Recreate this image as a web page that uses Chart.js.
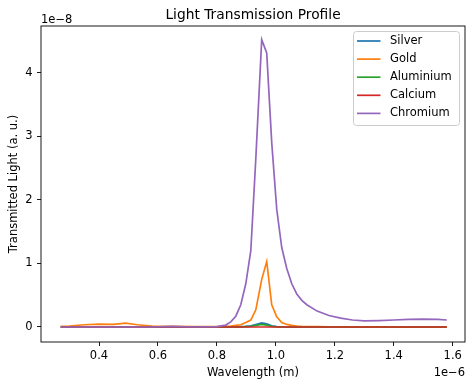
<!DOCTYPE html>
<html>
<head>
<meta charset="utf-8">
<script src="https://cdn.jsdelivr.net/npm/chart.js@4.4.0/dist/chart.umd.min.js"></script>
<style>
body { margin: 0; background: #fff; }
#wrap { width: 474px; height: 387px; }
</style>
</head>
<body>
<div id="wrap"><canvas id="myChart" width="474" height="387"></canvas></div>
<script>
// wavelength in units of 1e-6 m, transmission in units of 1e-8
const wavelengths = [0.27, 0.30, 0.35, 0.40, 0.45, 0.49, 0.53, 0.58, 0.65, 0.72, 0.80, 0.83, 0.847, 0.864, 0.881, 0.898, 0.915, 0.932, 0.952, 0.969, 0.986, 1.003, 1.020, 1.037, 1.054, 1.071, 1.088, 1.105, 1.14, 1.18, 1.22, 1.26, 1.30, 1.35, 1.40, 1.45, 1.50, 1.55, 1.58]

const silver    = [0, 0, 0, 0, 0, 0, 0, 0, 0, 0, 0, 0, 0, 0, 0.005, 0.01, 0.02, 0.04, 0.065, 0.05, 0.02, 0.008, 0.003, 0, 0, 0, 0, 0, 0, 0, 0, 0, 0, 0, 0, 0, 0, 0, 0]
const gold      = [0.01, 0.015, 0.035, 0.045, 0.04, 0.06, 0.035, 0.015, 0.01, 0.005, 0.005, 0.01, 0.015, 0.025, 0.035, 0.07, 0.11, 0.27, 0.75, 1.03, 0.35, 0.16, 0.07, 0.04, 0.025, 0.015, 0.01, 0.008, 0.005, 0.004, 0.003, 0.003, 0.003, 0.003, 0.003, 0.003, 0.003, 0.003, 0.003]
const aluminium = [0, 0, 0, 0, 0, 0, 0, 0, 0, 0, 0, 0, 0, 0, 0, 0.005, 0.01, 0.025, 0.04, 0.03, 0.01, 0.003, 0, 0, 0, 0, 0, 0, 0, 0, 0, 0, 0, 0, 0, 0, 0, 0, 0]
const calcium   = [0, 0, 0, 0, 0, 0, 0, 0, 0, 0, 0, 0, 0, 0, 0, 0, 0, 0, 0, 0, 0, 0, 0, 0, 0, 0, 0, 0, 0, 0, 0, 0, 0, 0, 0, 0, 0, 0, 0]
const chromium  = [0, 0, 0, 0, 0, 0, 0, 0, 0.01, 0, 0.005, 0.03, 0.08, 0.17, 0.35, 0.68, 1.2, 2.65, 4.52, 4.31, 2.9, 1.85, 1.25, 0.92, 0.68, 0.52, 0.42, 0.35, 0.25, 0.18, 0.14, 0.11, 0.095, 0.10, 0.11, 0.12, 0.125, 0.12, 0.11]

const seriesNames = ['Silver', 'Gold', 'Aluminium', 'Calcium', 'Chromium']
const seriesColors = ['#1f77b4', '#ff7f0e', '#2ca02c', '#d62728', '#9467bd']
const seriesValues = [silver, gold, aluminium, calcium, chromium]

const xTicks = [0.4, 0.6, 0.8, 1.0, 1.2, 1.4, 1.6]
const yTicks = [0, 1, 2, 3, 4]

const FONT = 'DejaVu Sans'

const ctx = document.getElementById('myChart').getContext('2d');

const datasets = seriesNames.map((name, i) => ({
    label: name,
    data: wavelengths.map((w, j) => ({ x: w, y: seriesValues[i][j] })),
    borderColor: seriesColors[i],
    backgroundColor: seriesColors[i],
    borderWidth: 1.7,
    pointRadius: 0,
    tension: 0,
    // last series on top, like matplotlib
    order: seriesNames.length - i
}))

// frame, title, offset texts and the legend box
const extras = {
    id: 'extras',
    afterDatasetsDraw(chart) {
        const { left, top, right, bottom } = chart.chartArea
        const c = chart.ctx
        c.save()
        c.strokeStyle = '#000'
        c.lineWidth = 0.9
        c.strokeRect(left, top, right - left, bottom - top)
        c.restore()
    },
    afterDraw(chart) {
        const { left, top, right, bottom } = chart.chartArea
        const c = chart.ctx
        c.save()
        c.fillStyle = '#000'
        c.font = '13.8px "' + FONT + '"'
        c.textAlign = 'center'
        c.textBaseline = 'alphabetic'
        c.fillText('Light Transmission Profile', (left + right) / 2, 19)

        c.font = '11.5px "' + FONT + '"'
        c.textAlign = 'left'
        c.fillText('1e\u22128', left, 22.7)
        c.textAlign = 'right'
        c.fillText('1e\u22126', right, 376)

        // legend
        const bx = 353.5, by = 31.5, bw = 106, bh = 94
        c.beginPath()
        c.roundRect(bx, by, bw, bh, 3)
        c.fillStyle = 'rgba(255,255,255,0.8)'
        c.fill()
        c.strokeStyle = '#cccccc'
        c.lineWidth = 1
        c.stroke()
        c.textAlign = 'left'
        c.textBaseline = 'middle'
        chart.data.datasets.forEach((ds, i) => {
            const y = 41 + i * 18.1
            c.beginPath()
            c.moveTo(357, y)
            c.lineTo(380.5, y)
            c.strokeStyle = ds.borderColor
            c.lineWidth = 1.7
            c.stroke()
            c.fillStyle = '#000'
            c.fillText(ds.label, 390, y)
        })
        c.restore()
    }
}

const myChart = new Chart(ctx, {
    type: 'line',
    data: { datasets: datasets },
    options: {
        responsive: false,
        animation: false,
        layout: { padding: { top: 26, right: 9, left: 0, bottom: 0 } },
        plugins: {
            legend: { display: false },
            tooltip: { enabled: false },
            title: { display: false }
        },
        scales: {
            x: {
                type: 'linear',
                min: 0.2032,
                max: 1.6417,
                afterFit(scale) { scale.height = 45 },
                afterBuildTicks(scale) { scale.ticks = xTicks.map(v => ({ value: v })) },
                grid: { drawOnChartArea: false, drawTicks: true, tickLength: 4, color: '#000', lineWidth: 0.9 },
                border: { display: false },
                ticks: {
                    color: '#000',
                    font: { family: FONT, size: 11.5 },
                    padding: 3.5,
                    maxRotation: 0,
                    autoSkip: false,
                    callback: v => v.toFixed(1)
                },
                title: {
                    display: true,
                    text: 'Wavelength (m)',
                    color: '#000',
                    font: { family: FONT, size: 11.5 },
                    padding: { top: 0, bottom: 7 }
                }
            },
            y: {
                type: 'linear',
                min: -0.236,
                max: 4.735,
                afterFit(scale) { scale.width = 41 },
                afterBuildTicks(scale) { scale.ticks = yTicks.map(v => ({ value: v })) },
                grid: { drawOnChartArea: false, drawTicks: true, tickLength: 4, color: '#000', lineWidth: 0.9 },
                border: { display: false },
                ticks: {
                    color: '#000',
                    font: { family: FONT, size: 11.5 },
                    padding: 4.5,
                    callback: v => String(v)
                },
                title: {
                    display: true,
                    text: 'Transmitted Light (a. u.)',
                    color: '#000',
                    font: { family: FONT, size: 11.5 },
                    padding: { top: 7, bottom: 0 }
                }
            }
        }
    },
    plugins: [extras]
})
</script>
</body>
</html>
